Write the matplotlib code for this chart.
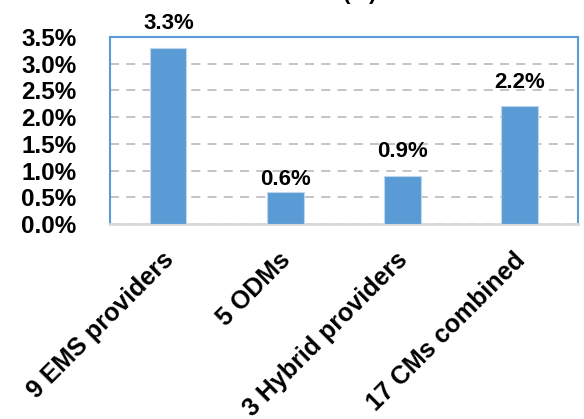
import matplotlib.pyplot as plt
from matplotlib.ticker import FuncFormatter, MultipleLocator
from matplotlib.transforms import ScaledTranslation

categories = ['9 EMS providers', '5 ODMs', '3 Hybrid providers', '17 CMs combined']
values = [3.3, 0.6, 0.9, 2.2]
value_labels = ['3.3%', '0.6%', '0.9%', '2.2%']
label_gap_px = [14, 2, 14, 13]

plt.rcParams['font.family'] = ['Liberation Sans', 'DejaVu Sans']
plt.rcParams['font.weight'] = 'bold'

fig = plt.figure(figsize=(5.84, 4.19), dpi=100)
ax = fig.add_axes([0.188, 0.465, 0.802, 0.447])

x = range(len(categories))
bars = ax.bar(x, values, width=0.31, color='#5B9BD5', edgecolor='#BDD7EE', linewidth=0.8, zorder=3)

for b, lab, gap in zip(bars, value_labels, label_gap_px):
    ax.annotate(lab, (b.get_x() + b.get_width() / 2, b.get_height()),
                xytext=(0, gap * 0.72), textcoords='offset points',
                ha='center', va='bottom', fontsize=16, fontweight='bold')

ax.set_xlim(-0.5, 3.5)
ax.set_ylim(0, 3.5)
ax.yaxis.set_major_locator(MultipleLocator(0.5))
ax.yaxis.set_major_formatter(FuncFormatter(lambda v, p: f'{v:.1f}%'))
ax.yaxis.grid(True, linestyle=(0, (5, 4)), color='#BFBFBF', linewidth=1.3, zorder=0)

ax.set_xticks(list(x))
ax.set_xticklabels(categories, rotation=45, ha='right', rotation_mode='anchor',
                   fontsize=18, fontweight='bold')
ax.tick_params(axis='both', length=0)
ax.tick_params(axis='y', labelsize=17.5, pad=24)
ax.tick_params(axis='x', pad=17)
shift = ScaledTranslation(-7 / 100, 0, fig.dpi_scale_trans)
for t in ax.get_xticklabels():
    t.set_transform(t.get_transform() + shift)

for s in ['top', 'left', 'right']:
    ax.spines[s].set_color('#5B9BD5')
    ax.spines[s].set_linewidth(1.5)
ax.spines['bottom'].set_color('#D9D9D9')
ax.spines['bottom'].set_linewidth(2)

fig.text(0.617, 1.0 + 1.0 / 419, '(%)', ha='center', va='baseline',
         fontsize=16, fontweight='bold')

fig.savefig('out.png', dpi=100)
